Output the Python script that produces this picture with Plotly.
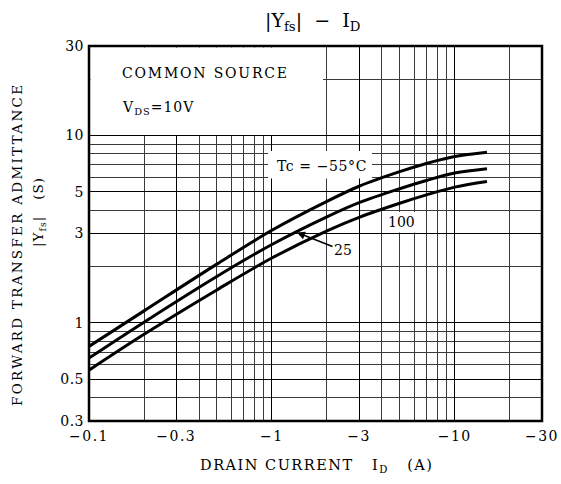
import plotly.graph_objects as go

# Data (|ID| in A, |Yfs| in S)
id_abs = [0.1, 0.2, 0.5, 1.0, 2.0, 3.0, 5.0, 7.0, 10.0, 15.0]
yfs_m55 = [0.75, 1.16, 2.06, 3.12, 4.45, 5.36, 6.41, 7.09, 7.72, 8.14]
yfs_25 = [0.65, 1.01, 1.77, 2.62, 3.68, 4.38, 5.2, 5.75, 6.3, 6.65]
yfs_100 = [0.56, 0.87, 1.5, 2.22, 3.1, 3.66, 4.35, 4.82, 5.3, 5.68]

x_tickvals = [0.1, 0.3, 1, 3, 10, 30]
x_ticktext = ["\u22120.1", "\u22120.3", "\u22121", "\u22123", "\u221210", "\u221230"]
y_tickvals = [0.3, 0.5, 1, 3, 5, 10, 30]
y_ticktext = ["0.3", "0.5", "1", "3", "5", "10", "30"]

FONT = "DejaVu Serif"

def sp(t, ls):
    return f"<span style='letter-spacing:{ls}px'>{t}</span>"

fig = go.Figure()
for ys in (yfs_m55, yfs_25, yfs_100):
    fig.add_trace(go.Scatter(x=id_abs, y=ys, mode="lines",
                             line=dict(color="black", width=3, shape="spline", smoothing=1.0),
                             showlegend=False, hoverinfo="skip"))

L, R, T, B = 89, 19, 46, 63
W, H = 561, 484
pw, ph = W - L - R, H - T - B

def px(xp):
    return (xp - L) / pw

def py(yp):
    return (H - B - yp) / ph

fig.update_layout(
    width=W, height=H,
    margin=dict(l=L, r=R, t=T, b=B, autoexpand=False),
    paper_bgcolor="white", plot_bgcolor="white",
    font=dict(family=FONT, color="black", size=14),
    xaxis=dict(type="log", range=[-1, 1.47712], tickvals=x_tickvals,
               ticktext=[sp(t, 1.5) for t in x_ticktext], automargin=False,
               showgrid=True, gridcolor="#000000", gridwidth=1.3, zeroline=False,
               ticks="", ticklabelstandoff=5, tickfont=dict(size=14, family=FONT),
               minor=dict(dtick="D1", showgrid=True, gridcolor="#3a3a3a", gridwidth=1, ticks=""),
               showline=False),
    yaxis=dict(type="log", range=[-0.52288, 1.47712], tickvals=y_tickvals,
               ticktext=[sp(t, 0.5) for t in y_ticktext], automargin=False,
               showgrid=True, gridcolor="#000000", gridwidth=1.3, zeroline=False,
               ticks="", ticklabelstandoff=4, tickfont=dict(size=14, family=FONT),
               minor=dict(dtick="D1", showgrid=True, gridcolor="#3a3a3a", gridwidth=1, ticks=""),
               showline=False),
)

def blank(x0, x1, y0, y1):
    fig.add_shape(type="rect", xref="paper", yref="paper",
                  x0=px(x0), x1=px(x1), y0=py(y1), y1=py(y0),
                  fillcolor="white", line=dict(width=0), layer="above")

# blank area behind the condition text (grid hidden there)
blank(90.5, 323, 47.5, 135)
# label boxes
blank(268, 372, 151, 178.5)
blank(385, 418, 212, 232.5)
# frame
fig.add_shape(type="rect", xref="paper", yref="paper", x0=0, x1=1, y0=0, y1=1,
              line=dict(color="black", width=2.5), layer="above")

def A(text, x, y, size=14, **kw):
    d = dict(text=text, x=px(x), y=py(y), xref="paper", yref="paper", showarrow=False,
             xanchor=kw.pop("xanchor", "center"), yanchor="middle", font=dict(size=size, family=FONT))
    d.update(kw)
    return d

ann = [
    A("|Y<sub>fs</sub>|  \u2212  I<sub>D</sub>", 312, 21, size=19),
    A(sp("COMMON SOURCE", 1.8), 120, 73, size=14, xanchor="left"),
    A(sp("V<sub>DS</sub>=10V", 1.0), 120, 108, size=14, xanchor="left"),
    A(sp("Tc = \u221255\u00b0C", 0.6), 322, 166, size=14),
    A("100", 401, 222, size=14),
    dict(text="25", x=px(297), y=py(232.5), xref="paper", yref="paper",
         showarrow=True, arrowhead=2, arrowsize=1, arrowwidth=1.6, arrowcolor="black",
         ax=46, ay=18, font=dict(size=14, family=FONT)),
    A(sp("DRAIN CURRENT   I<sub>D</sub>   (A)", 1.5), 316, 466, size=14.5),
    A(sp("FORWARD TRANSFER ADMITTANCE", 2.3), 17, 245, size=13.5, textangle=-90),
    A(sp("|Y<sub>fs</sub>|   (S)", 1.0), 39, 212, size=13.5, textangle=-90),
]
fig.update_layout(annotations=ann)

fig.write_html("out.html")
